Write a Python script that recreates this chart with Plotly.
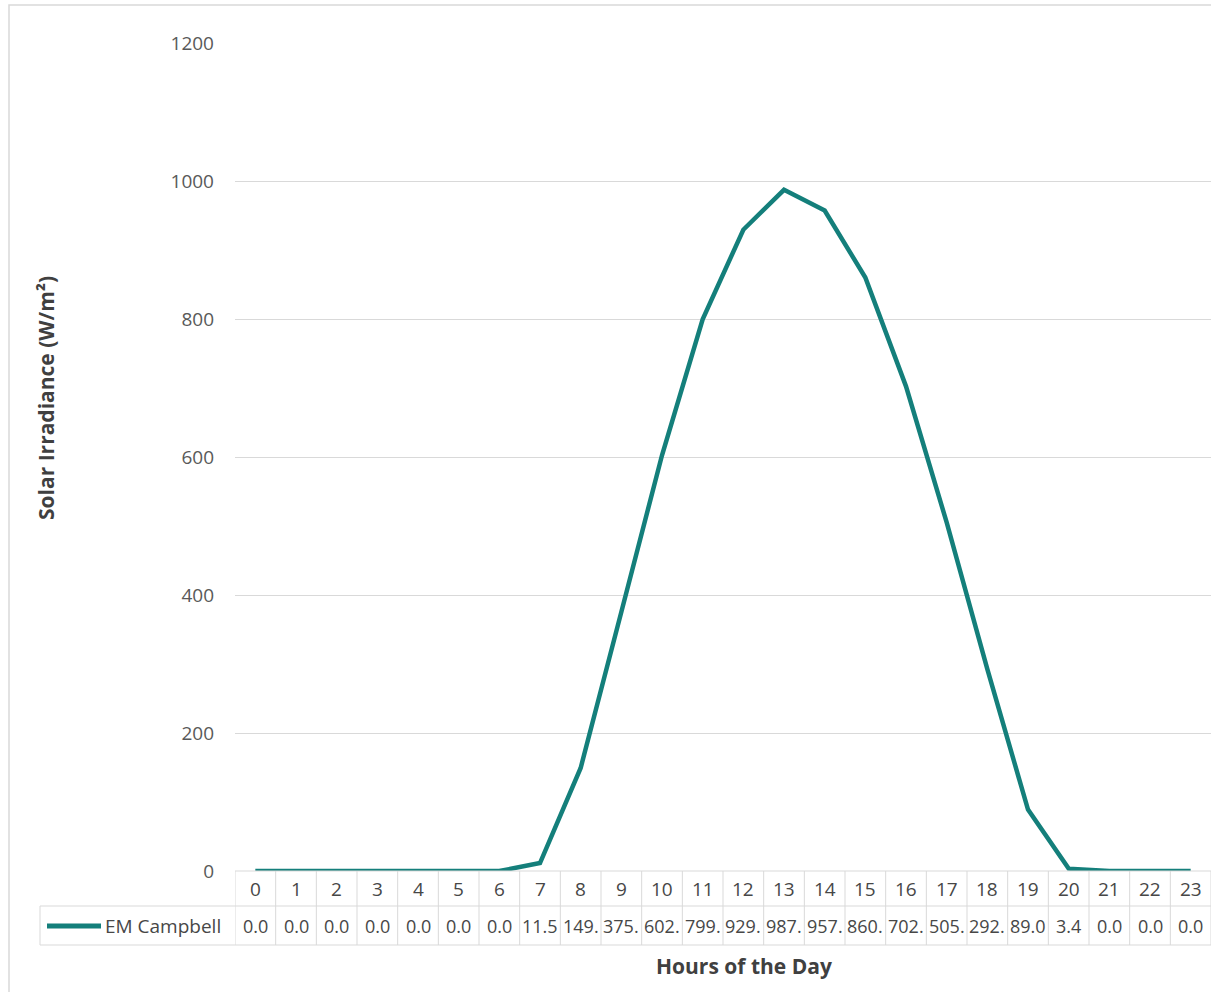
import plotly.graph_objects as go

hours = list(range(24))
hour_labels = [str(h) for h in hours]
series_name = "EM Campbell"
irradiance = [0.0, 0.0, 0.0, 0.0, 0.0, 0.0, 0.0, 11.5, 149.3, 375.4, 602.5, 799.6,
              929.4, 987.2, 957.3, 860.1, 702.4, 505.2, 292.6, 89.0, 3.4, 0.0, 0.0, 0.0]
y_ticks = [0, 200, 400, 600, 800, 1000, 1200]

OFF = 0  # body margin removed via post_script
W, H = 1211 - OFF, 992 - OFF
L, R, T, B = 235 - OFF, 1211 - OFF, 43 - OFF, 871 - OFF  # plot area in figure pixels
color = "#147f7b"
grid = "#d9d9d9"
txt = "#595959"
tbl_txt = "#474747"
font = "Open Sans"

def py(p):  # page pixel y -> paper y
    return (B - (p - OFF)) / (B - T)

def px(p):  # page pixel x -> paper x
    return ((p - OFF) - L) / (R - L)

fig = go.Figure()
fig.add_trace(go.Scatter(x=hours, y=irradiance, mode="lines", name=series_name,
                         line=dict(color=color, width=4.5), showlegend=False))

shapes = []
annotations = []
line_style = dict(color=grid, width=1)
# outer chart border
shapes.append(dict(type="rect", xref="paper", yref="paper", x0=px(9), x1=px(1225),
                   y0=py(1010), y1=py(5), line=dict(color="#d9d9d9", width=1.5)))
# table horizontal lines
shapes.append(dict(type="line", xref="paper", yref="paper", x0=0, x1=1, y0=py(871), y1=py(871), line=line_style))
for yy in (906, 945):
    shapes.append(dict(type="line", xref="paper", yref="paper", x0=px(40), x1=1, y0=py(yy), y1=py(yy), line=line_style))
# vertical lines
for i in range(25):
    xx = i - 0.5
    shapes.append(dict(type="line", xref="x", yref="paper", x0=xx, x1=xx, y0=py(871), y1=py(945), line=line_style))
shapes.append(dict(type="line", xref="paper", yref="paper", x0=px(40), x1=px(40), y0=py(906), y1=py(945), line=line_style))
# legend sample line
shapes.append(dict(type="line", xref="paper", yref="paper", x0=px(47), x1=px(101), y0=py(926), y1=py(926),
                   line=dict(color=color, width=5)))

for h, lab, v in zip(hours, hour_labels, irradiance):
    annotations.append(dict(x=h, y=py(889), xref="x", yref="paper", text=lab, showarrow=False,
                            xanchor="center", yanchor="middle",
                            font=dict(family=font, size=19, color=tbl_txt)))
    annotations.append(dict(x=h, y=py(926), xref="x", yref="paper", text=f"{v:.1f}"[:4], showarrow=False,
                            xanchor="center", yanchor="middle",
                            font=dict(family=font, size=18, color=tbl_txt)))
annotations.append(dict(x=px(103), y=py(926), xref="paper", yref="paper", text=series_name, showarrow=False,
                        xanchor="left", yanchor="middle", font=dict(family=font, size=19, color=tbl_txt)))
annotations.append(dict(x=px(744), y=py(966), xref="paper", yref="paper", text="<b>Hours of the Day</b>",
                        showarrow=False, xanchor="center", yanchor="middle",
                        font=dict(family=font, size=21, color="#404040")))
annotations.append(dict(x=px(46), y=py(398), xref="paper", yref="paper", text="<b>Solar Irradiance (W/m²)</b>",
                        showarrow=False, textangle=-90, xanchor="center", yanchor="middle",
                        font=dict(family=font, size=21, color="#404040")))

fig.update_layout(
    width=W, height=H,
    margin=dict(l=L, r=W - R, t=T, b=H - B),
    paper_bgcolor="white", plot_bgcolor="white",
    shapes=shapes, annotations=annotations,
    xaxis=dict(range=[-0.5, 23.5], showticklabels=False, showgrid=False, zeroline=False,
               tickmode="array", tickvals=hours),
    yaxis=dict(range=[0, 1200], tickvals=y_ticks, showgrid=True, gridcolor=grid, gridwidth=1,
               zeroline=False, ticks="", ticklabelstandoff=20,
               tickfont=dict(family=font, size=19, color=txt)),
)
fig.write_html("out.html", config={"displayModeBar": False},
               post_script="document.body.style.margin='0';document.body.style.overflow='hidden';")
